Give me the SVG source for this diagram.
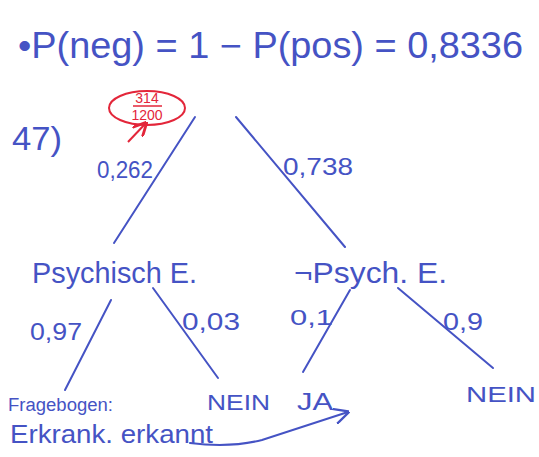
<svg xmlns="http://www.w3.org/2000/svg" width="539" height="457" viewBox="0 0 539 457">
<style>
.t{font-family:"Liberation Sans","DejaVu Sans",sans-serif;fill:#4553c4}
.r{font-family:"Liberation Sans","DejaVu Sans",sans-serif;fill:#e3263a}
.e{stroke:#4553c4;stroke-width:2;fill:none;stroke-linecap:round}
</style>
<defs>
<marker id="ah" viewBox="0 0 10 10" refX="9" refY="5" markerWidth="8" markerHeight="8" orient="auto"><path d="M0,0 L10,5 L0,10" fill="none" stroke="#4553c4" stroke-width="1.5"/></marker>
<marker id="rh" viewBox="0 0 10 10" refX="9" refY="5" markerWidth="7" markerHeight="7" orient="auto"><path d="M0,0 L10,5 L0,10" fill="none" stroke="#e3263a" stroke-width="2"/></marker>
</defs>
<rect width="539" height="457" fill="#fff"/>
<g id="formula">
<text class="t" x="18" y="58" font-size="36" textLength="505" lengthAdjust="spacingAndGlyphs">•P(neg) = 1 − P(pos) = 0,8336</text>
</g>
<g id="fraction">
<ellipse cx="147" cy="108" rx="38" ry="17" fill="none" stroke="#e3263a" stroke-width="2"/>
<text class="r" x="147" y="103" font-size="14" text-anchor="middle">314</text>
<line x1="133" y1="106" x2="162" y2="106" stroke="#e3263a" stroke-width="1.5"/>
<text class="r" x="147" y="120" font-size="14" text-anchor="middle">1200</text>
<line x1="128" y1="142" x2="146" y2="123" stroke="#e3263a" stroke-width="2" marker-end="url(#rh)"/>
</g>
<g id="task">
<text class="t" x="12" y="150" font-size="34" textLength="50" lengthAdjust="spacingAndGlyphs">47)</text>
</g>
<g id="connectors">
<line class="e" x1="195" y1="117" x2="114" y2="243"/>
<line class="e" x1="236" y1="117" x2="345" y2="247"/>
<line class="e" x1="111" y1="300" x2="65" y2="390"/>
<line class="e" x1="153" y1="288" x2="218" y2="378"/>
<line class="e" x1="350" y1="290" x2="303" y2="372"/>
<line class="e" x1="398" y1="288" x2="493" y2="368"/>
<path class="e" d="M190,443 Q230,448 262,440 L348,412" marker-end="url(#ah)"/>
</g>
<g id="edge-labels">
<text class="t" x="97" y="178" font-size="24" textLength="56" lengthAdjust="spacingAndGlyphs">0,262</text>
<text class="t" x="283" y="175" font-size="24" textLength="70" lengthAdjust="spacingAndGlyphs">0,738</text>
<text class="t" x="30" y="340" font-size="24" textLength="52" lengthAdjust="spacingAndGlyphs">0,97</text>
<text class="t" x="182" y="330" font-size="24" textLength="58" lengthAdjust="spacingAndGlyphs">0,03</text>
<text class="t" x="290" y="325" font-size="22" textLength="43" lengthAdjust="spacingAndGlyphs">0,1</text>
<text class="t" x="443" y="330" font-size="24" textLength="40" lengthAdjust="spacingAndGlyphs">0,9</text>
</g>
<g id="node-psych">
<text class="t" x="32" y="283" font-size="30" textLength="165" lengthAdjust="spacingAndGlyphs">Psychisch E.</text>
</g>
<g id="node-notpsych">
<text class="t" x="294" y="283" font-size="30" textLength="153" lengthAdjust="spacingAndGlyphs">¬Psych. E.</text>
</g>
<g id="node-fragebogen">
<text class="t" x="8" y="411" font-size="18" textLength="105" lengthAdjust="spacingAndGlyphs">Fragebogen:</text>
<text class="t" x="10" y="443" font-size="26" textLength="203" lengthAdjust="spacingAndGlyphs">Erkrank. erkannt</text>
</g>
<g id="node-nein1">
<text class="t" x="207" y="410" font-size="22" textLength="63" lengthAdjust="spacingAndGlyphs">NEIN</text>
</g>
<g id="node-ja">
<text class="t" x="297" y="410" font-size="24" textLength="36" lengthAdjust="spacingAndGlyphs">JA</text>
</g>
<g id="node-nein2">
<text class="t" x="466" y="402" font-size="22" textLength="70" lengthAdjust="spacingAndGlyphs">NEIN</text>
</g>
</svg>
